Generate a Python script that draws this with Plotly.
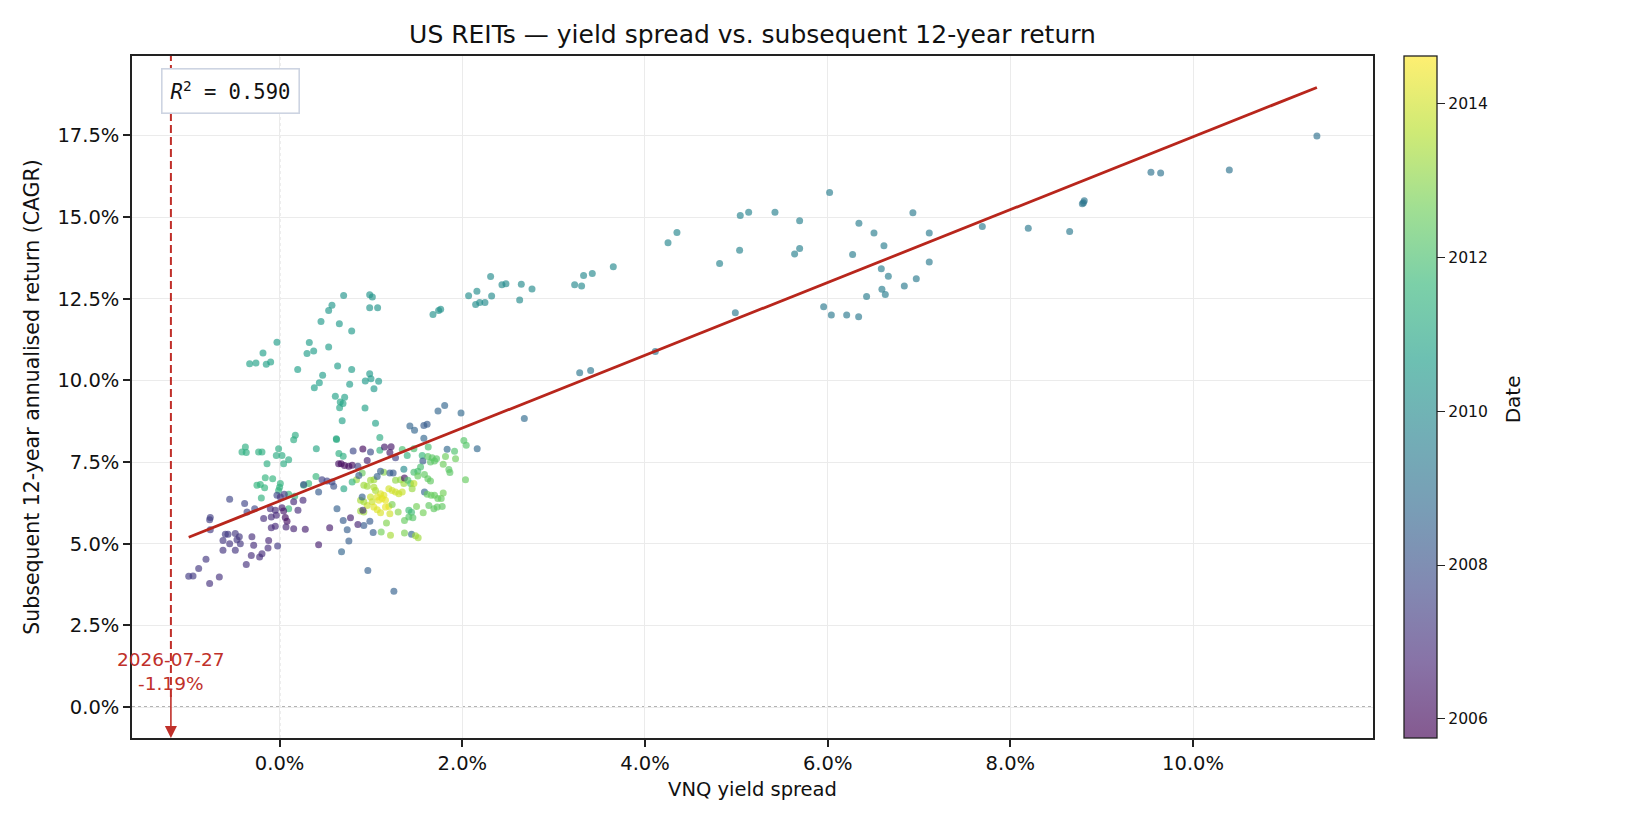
import plotly.graph_objects as go
import plotly.colors as pc

# ---------------- data ----------------
# VNQ yield spread (%), subsequent 12-year CAGR (%), observation date (decimal year)
spread_pct = [
    0.172, 0.154, 0.621, -0.375, -0.412, -0.365, -0.230, -0.193, -0.011, -0.036, 0.026, 0.402, 0.099, 0.044, -0.138,
    -0.157, -0.076, -0.248, -0.211, -0.164, 0.008, 0.000, -0.011, 0.398, 0.318, 0.263, -0.200, 0.099, 0.165, 0.099,
    0.646, 0.464, 0.519, 0.573, 0.592, 0.427, 0.263, -0.029, 0.008, 0.051, -0.547, -0.383, -0.273, 0.256, 0.154,
    0.026, 0.044, -0.102, -0.047, 0.201, -0.357, -0.759, -0.766, -0.175, -0.091, -0.036, 0.062, 0.081, -0.759, -0.091,
    -0.047, 0.070, 0.154, 0.281, 0.548, 0.628, -0.594, -0.565, -0.620, -0.485, -0.441, -0.467, -0.430, -0.547, -0.303,
    -0.284, -0.120, -0.022, -0.127, 0.427, -0.620, -0.485, -0.310, -0.219, -0.193, -0.365, -0.806, -0.886, -0.995, -0.948,
    -0.660, -0.766,
    0.685, 1.050, 1.426, 1.477, 1.579, 1.615, 0.623, 1.097, 1.579, 2.017, 2.043, 2.163, 0.649, 0.696, 0.805,
    0.911, 0.995, 1.097, 1.148, 1.221, 1.207, 1.269, 1.343, 1.397, 1.470, 1.561, 1.627, 1.568, 1.623, 1.670,
    1.718, 1.652, 1.696, 1.834, 1.915, 1.926, 1.816, 1.791, 1.853, 1.864, 2.035, 0.959, 0.674, 0.711, 0.758,
    0.795, 0.857, 0.842, 0.794, 0.703, 0.904, 0.867, 0.922, 0.959, 0.995, 1.032, 1.068, 1.141, 1.105, 1.207,
    1.243, 1.269, 1.323, 1.360, 1.360, 1.367, 1.404, 1.433, 1.470, 1.513, 1.513, 1.543, 1.586, 1.623, 1.652,
    1.470, 1.451, 1.586, 1.616, 1.659, 1.696, 1.732, 1.769, 1.791, 1.105, 1.141, 1.123, 1.159, 1.086, 1.068,
    1.196, 1.232, 1.269, 1.305, 1.342, 1.032, 1.050, 0.995, 1.013, 0.959, 0.922, 0.886, 0.904, 1.032, 1.068,
    1.105, 1.159, 1.196, 1.232, 0.922, 0.886, 0.911, 0.776, 0.857, 0.696, 0.740, 0.758, 0.678, 0.922, 0.988,
    1.024, 1.112, 1.170, 1.214, 1.207, 1.298, 1.367, 1.415, 1.444, 1.415, 1.459, 1.499, 1.572, 1.634, 1.689,
    1.725, 1.780, 1.367, 1.444, 1.488, 1.517, 0.966, 1.251,
    0.701, 0.986, 1.015, 0.573, 0.537, 0.986, 1.073, 0.453, 0.654, 0.789, 1.679, 1.741, 1.763, 2.069, 2.160,
    2.146, 2.190, -0.029, 0.325, -0.182, 0.300, 0.373, 0.537, -0.328, -0.259, -0.146, -0.098, 0.198, 0.635, 0.789,
    0.471, 0.435, 0.380, 0.767, 0.986, 0.938, 1.000, 1.084, 1.033, 0.610, 0.712, 0.664, 0.694, 0.657, 0.935,
    1.734, 1.807, 1.986,
    2.310, 2.248, 2.321, 2.434, 2.478, 2.646, 2.763, 2.628, 3.230, 3.306, 3.328, 3.423, 3.653, 4.252, 4.350,
    4.817, 5.036, 5.043, 5.135, 5.423, 5.693, 5.638, 5.693, 6.021, 6.342, 6.507, 6.273, 6.616, 6.587, 6.664,
    6.933, 7.112, 7.112, 6.970, 6.839, 6.594, 6.631, 6.426, 5.956, 6.040, 6.208, 6.339, 4.989, 4.113, 3.285,
    3.405, 2.679,
    7.693, 8.196, 8.649, 8.788, 8.800, 8.809, 9.539, 9.645, 10.397, 11.356,
]
cagr_pct = [
    8.32, 8.18, 8.21, 7.96, 7.81, 7.79, 7.81, 7.81, 7.91, 7.70, 7.70, 7.91, 7.57, 7.45, 7.45,
    7.02, 6.99, 6.79, 6.81, 6.71, 6.84, 6.73, 6.63, 7.06, 6.84, 6.79, 6.40, 6.51, 6.45, 6.07,
    7.45, 6.96, 6.92, 6.89, 6.76, 6.58, 6.81, 6.48, 6.43, 6.51, 6.36, 6.23, 6.07, 6.33, 6.28,
    6.10, 6.00, 6.07, 6.02, 6.02, 5.97, 5.80, 5.73, 5.77, 5.82, 5.87, 5.80, 5.69, 5.43, 5.49,
    5.53, 5.51, 5.46, 5.44, 5.49, 6.07, 5.29, 5.29, 5.10, 5.31, 5.21, 5.12, 5.00, 5.00, 5.21,
    4.95, 5.10, 4.93, 4.87, 4.97, 4.80, 4.80, 4.64, 4.59, 4.69, 4.36, 4.52, 4.24, 4.00, 4.01,
    3.98, 3.78,
    8.76, 8.69, 8.60, 8.47, 8.62, 8.66, 8.19, 8.25, 8.23, 8.16, 8.01, 7.91, 7.76, 7.68, 7.84,
    7.90, 7.81, 7.86, 7.96, 7.97, 7.79, 7.63, 7.88, 7.70, 7.91, 7.70, 7.96, 7.53, 7.67, 7.63,
    7.60, 7.50, 7.53, 7.89, 7.83, 7.60, 7.67, 7.43, 7.27, 7.18, 6.96, 7.55, 7.45, 7.39, 7.37,
    7.40, 7.37, 6.96, 6.89, 6.68, 7.16, 7.09, 6.79, 6.76, 6.94, 6.96, 7.06, 7.19, 7.22, 7.16,
    7.16, 6.94, 6.96, 6.84, 7.28, 7.01, 6.94, 6.84, 7.19, 7.22, 7.07, 7.35, 7.12, 6.99, 6.92,
    6.84, 6.68, 6.58, 6.51, 6.48, 6.48, 6.38, 6.38, 6.55, 6.53, 6.48, 6.38, 6.33, 6.33, 6.43,
    6.68, 6.63, 6.58, 6.53, 6.58, 6.73, 6.63, 6.43, 6.28, 6.17, 6.28, 6.33, 6.43, 6.12, 6.04,
    5.95, 6.12, 6.14, 6.20, 5.97, 6.00, 6.02, 5.79, 5.59, 5.71, 5.43, 5.08, 4.75, 5.56, 5.69,
    5.34, 5.36, 5.63, 5.26, 5.92, 5.97, 5.71, 6.02, 5.96, 5.82, 5.79, 6.14, 5.95, 6.17, 6.07,
    6.12, 6.14, 5.33, 5.29, 5.24, 5.18, 4.18, 3.54,
    12.60, 12.62, 12.55, 12.30, 12.14, 12.22, 12.22, 11.80, 11.73, 11.51, 12.02, 12.14, 12.18, 12.59, 12.73,
    12.32, 12.38, 11.17, 11.16, 10.84, 10.82, 10.90, 11.02, 10.51, 10.53, 10.49, 10.56, 10.33, 10.44, 10.33,
    10.16, 9.93, 9.77, 9.88, 10.20, 9.98, 10.05, 9.97, 9.74, 9.51, 9.48, 9.34, 9.29, 9.16, 9.15,
    9.06, 9.23, 9.00,
    13.18, 12.38, 12.58, 12.93, 12.96, 12.94, 12.80, 12.46, 12.93, 12.89, 13.21, 13.27, 13.48, 14.21, 14.53,
    13.58, 13.98, 15.05, 15.15, 15.15, 14.89, 13.87, 14.04, 15.75, 14.81, 14.51, 13.85, 14.12, 13.42, 13.19,
    15.13, 14.51, 13.62, 13.11, 12.89, 12.79, 12.63, 12.57, 12.25, 12.00, 12.00, 11.95, 12.07, 10.88, 10.23,
    10.30, 8.83,
    14.71, 14.66, 14.56, 15.41, 15.44, 15.50, 16.37, 16.35, 16.44, 17.48,
]
obs_year = [
    2011.2, 2011.2, 2011.0, 2011.3, 2011.3, 2011.3, 2011.3, 2011.3, 2011.2, 2011.2, 2011.2, 2011.0, 2011.2, 2011.2, 2011.3,
    2011.5, 2011.5, 2011.5, 2011.5, 2011.5, 2011.4, 2011.4, 2011.4, 2011.6, 2011.7, 2011.7, 2011.4, 2011.6, 2011.6, 2011.7,
    2006.2, 2007.5, 2007.5, 2007.6, 2008.0, 2008.3, 2008.0, 2007.7, 2007.0, 2007.3, 2007.6, 2007.6, 2007.7, 2006.8, 2006.8,
    2006.5, 2006.3, 2006.9, 2006.9, 2006.9, 2007.6, 2007.4, 2007.4, 2006.9, 2006.9, 2006.8, 2006.1, 2006.1, 2007.3, 2006.8,
    2006.8, 2006.6, 2006.6, 2006.5, 2006.4, 2008.5, 2007.3, 2007.3, 2007.2, 2007.2, 2007.2, 2007.2, 2007.2, 2007.1, 2006.9,
    2006.9, 2006.7, 2007.3, 2006.9, 2006.5, 2007.1, 2007.1, 2006.9, 2006.9, 2006.9, 2007.0, 2007.2, 2007.2, 2007.3, 2007.3,
    2007.0, 2007.0,
    2010.8, 2010.8, 2008.6, 2008.6, 2008.3, 2008.3, 2011.2, 2011.2, 2008.6, 2012.2, 2012.2, 2008.7, 2011.3, 2011.3, 2007.7,
    2006.0, 2007.8, 2011.4, 2006.4, 2006.3, 2006.3, 2007.5, 2012.0, 2011.5, 2012.0, 2011.6, 2012.0, 2008.2, 2012.3, 2012.3,
    2012.3, 2012.3, 2012.3, 2008.7, 2012.1, 2012.6, 2012.6, 2012.6, 2012.3, 2012.3, 2012.5, 2006.5, 2006.0, 2006.0, 2006.0,
    2006.1, 2007.6, 2013.2, 2011.5, 2011.0, 2012.5, 2008.4, 2013.3, 2013.3, 2013.3, 2013.3, 2008.5, 2013.0, 2008.4, 2008.3,
    2008.3, 2013.1, 2013.1, 2013.3, 2010.0, 2006.2, 2012.2, 2012.2, 2012.0, 2012.0, 2012.5, 2012.0, 2012.4, 2012.4, 2012.4,
    2013.8, 2013.2, 2008.6, 2012.5, 2012.5, 2012.5, 2012.5, 2012.5, 2012.7, 2014.2, 2014.2, 2014.3, 2014.3, 2014.3, 2014.2,
    2014.0, 2014.0, 2014.0, 2013.9, 2013.9, 2013.5, 2013.5, 2013.9, 2013.9, 2013.9, 2013.4, 2013.4, 2008.5, 2014.2, 2014.2,
    2014.1, 2014.3, 2014.3, 2012.8, 2013.3, 2013.3, 2007.0, 2006.5, 2006.6, 2008.3, 2008.4, 2008.4, 2008.6, 2008.3, 2008.3,
    2008.4, 2012.7, 2012.9, 2013.4, 2014.0, 2013.0, 2012.5, 2011.8, 2011.8, 2012.2, 2012.2, 2012.7, 2012.7, 2012.4, 2012.4,
    2012.4, 2012.4, 2012.8, 2008.6, 2013.3, 2013.3, 2008.5, 2008.5,
    2010.3, 2010.3, 2010.3, 2010.4, 2010.4, 2010.3, 2010.3, 2010.5, 2010.5, 2010.5, 2010.2, 2010.2, 2010.2, 2010.1, 2010.1,
    2010.1, 2010.1, 2010.6, 2010.6, 2010.7, 2010.6, 2010.6, 2010.6, 2010.8, 2010.8, 2010.8, 2010.8, 2010.7, 2010.6, 2010.6,
    2010.6, 2010.7, 2010.7, 2010.6, 2010.5, 2010.5, 2010.5, 2010.5, 2010.5, 2010.8, 2010.8, 2010.9, 2010.9, 2010.9, 2010.8,
    2008.6, 2008.6, 2008.7,
    2010.0, 2010.0, 2010.0, 2010.0, 2010.0, 2010.0, 2010.0, 2010.0, 2009.9, 2009.9, 2009.9, 2009.9, 2009.9, 2009.8, 2009.8,
    2009.7, 2009.7, 2009.7, 2009.7, 2009.6, 2009.6, 2009.6, 2009.6, 2009.5, 2009.5, 2009.5, 2009.5, 2009.5, 2009.5, 2009.5,
    2009.4, 2009.4, 2009.4, 2009.4, 2009.4, 2009.5, 2009.5, 2009.5, 2009.3, 2009.3, 2009.3, 2009.3, 2009.3, 2009.2, 2009.2,
    2009.2, 2008.8,
    2009.4, 2009.3, 2009.3, 2009.2, 2009.2, 2009.2, 2009.1, 2009.1, 2009.1, 2009.0,
]

fit_slope = 1.1148        # regression line shown (percent per percent)
fit_intercept = 6.308     # percent
r_squared = 0.590
current_date = "2026-07-27"
current_spread = -1.19    # percent
date_first, date_last = 2005.75, 2014.62
x_tick_vals = [0, 2, 4, 6, 8, 10]
y_tick_vals = [0, 2.5, 5, 7.5, 10, 12.5, 15, 17.5]
cbar_tick_vals = [2006, 2008, 2010, 2012, 2014]
x_range = [-1.616, 11.97]
y_range = [-0.949, 19.93]

# ---------------- styling ----------------
FONT = "DejaVu Sans"
TXT = "#111111"
RED_LINE = "#b8261c"
RED_DASH = "#c0302a"
ALPHA = 0.65

def blend(hexc, a=ALPHA):
    r, g, b = pc.hex_to_rgb(hexc)
    return "rgb({},{},{})".format(round(r * a + 255 * (1 - a)),
                                   round(g * a + 255 * (1 - a)),
                                   round(b * a + 255 * (1 - a)))

vir = pc.sequential.Viridis
blend_scale = [[i / (len(vir) - 1), blend(c)] for i, c in enumerate(vir)]

fig = go.Figure()

fig.add_trace(go.Scatter(
    x=spread_pct, y=cagr_pct, mode="markers",
    marker=dict(size=7, color=obs_year, colorscale="Viridis",
                cmin=date_first, cmax=date_last, opacity=ALPHA,
                line=dict(width=0)),
    showlegend=False, hoverinfo="x+y",
))

# colour bar (blended like the translucent markers)
fig.add_trace(go.Scatter(
    x=[spread_pct[0]], y=[cagr_pct[0]], mode="markers",
    marker=dict(size=1, opacity=0, color=[date_first], colorscale=blend_scale,
                cmin=date_first, cmax=date_last, showscale=True,
                colorbar=dict(
                    x=1.0251, xanchor="left", xpad=0, ypad=0,
                    y=0.5, yanchor="middle", len=1, lenmode="fraction",
                    thickness=33, outlinewidth=1.3, outlinecolor="#222222",
                    tickmode="array", tickvals=cbar_tick_vals,
                    ticktext=[str(v) for v in cbar_tick_vals],
                    ticks="outside", ticklen=8, tickwidth=1.3, tickcolor="#222222",
                    tickfont=dict(family=FONT, size=15.6, color=TXT),
                )),
    showlegend=False, hoverinfo="skip",
))

# regression line
x_lo, x_hi = min(spread_pct), max(spread_pct)
fig.add_trace(go.Scatter(
    x=[x_lo, x_hi], y=[fit_intercept + fit_slope * x_lo, fit_intercept + fit_slope * x_hi],
    mode="lines", line=dict(color=RED_LINE, width=2.8),
    showlegend=False, hoverinfo="skip",
))

shapes = [
    dict(type="line", xref="x", yref="paper", x0=0, x1=0, y0=0, y1=1,
         line=dict(color="#666666", width=1, dash="dot"), layer="between"),
    dict(type="line", xref="paper", yref="y", x0=0, x1=1, y0=0, y1=0,
         line=dict(color="#666666", width=1, dash="dot"), layer="between"),
    dict(type="line", xref="x", yref="paper", x0=current_spread, x1=current_spread, y0=0.06, y1=1,
         line=dict(color=RED_DASH, width=2, dash="8px,4px"), layer="above"),
]

annotations = [
    dict(xref="paper", yref="paper", x=0.0236, y=0.982, xanchor="left", yanchor="top",
         text="<i>R</i><sup>2</sup> = {:.3f}".format(r_squared), showarrow=False,
         font=dict(family="DejaVu Sans Mono", size=20.5, color=TXT),
         bgcolor="white", bordercolor="#cdd4e2", borderwidth=1.6, borderpad=8),
    dict(xref="x", yref="y", x=current_spread, y=y_range[0],
         text="{}<br>{:.2f}%".format(current_date, current_spread),
         showarrow=True, ax=0, ay=-67, axref="pixel", ayref="pixel",
         arrowhead=2, arrowsize=1.5, arrowwidth=1.6, arrowcolor=RED_DASH, standoff=0,
         font=dict(family=FONT, size=18.5, color=RED_DASH), align="center"),
    # colour bar label
    dict(xref="paper", yref="paper", x=(1513 - 132) / 1241, y=(737.7 - 399) / 682,
         xanchor="center", yanchor="middle", textangle=-90, showarrow=False,
         text="Date", font=dict(family=FONT, size=20, color=TXT)),
]

fig.update_layout(
    width=1650, height=825,
    margin=dict(l=132, r=277, t=56, b=87),
    paper_bgcolor="white", plot_bgcolor="white",
    font=dict(family=FONT, color=TXT),
    title=dict(text="US REITs \u2014 yield spread vs. subsequent 12-year return",
               x=0.5, xref="paper", xanchor="center",
               y=1 - 34.7 / 825, yref="container", yanchor="middle",
               font=dict(family=FONT, size=25, color=TXT)),
    shapes=shapes, annotations=annotations,
    showlegend=False,
)

fig.update_xaxes(
    range=x_range, tickmode="array", tickvals=x_tick_vals,
    ticktext=["{:.1f}%".format(v) for v in x_tick_vals],
    showgrid=True, gridcolor="#ebebeb", gridwidth=1, zeroline=False,
    showline=True, linecolor="#222222", linewidth=1.5, mirror=True,
    ticks="outside", ticklen=7, tickwidth=1.5, tickcolor="#222222",
    tickfont=dict(family=FONT, size=19.5, color=TXT),
    title=dict(text="VNQ yield spread", standoff=8, font=dict(family=FONT, size=19.5, color=TXT)),
)
fig.update_yaxes(
    range=y_range, tickmode="array", tickvals=y_tick_vals,
    ticktext=["{:.1f}%".format(v) for v in y_tick_vals],
    showgrid=True, gridcolor="#ebebeb", gridwidth=1, zeroline=False,
    showline=True, linecolor="#222222", linewidth=1.5, mirror=True,
    ticks="outside", ticklen=7, tickwidth=1.5, tickcolor="#222222",
    tickfont=dict(family=FONT, size=19.5, color=TXT),
    title=dict(text="Subsequent 12-year annualised return (CAGR)", standoff=12,
               font=dict(family=FONT, size=20.5, color=TXT)),
)

fig.write_html("out.html")
